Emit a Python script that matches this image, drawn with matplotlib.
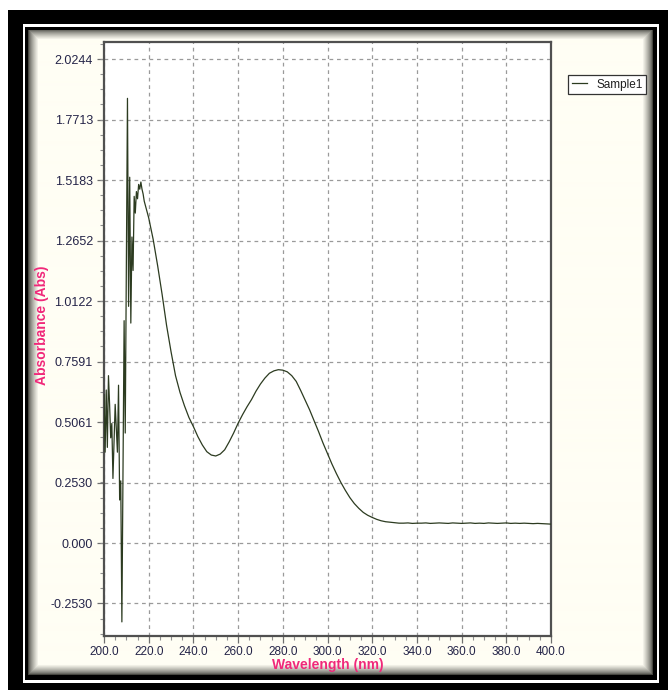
import numpy as np
import matplotlib
matplotlib.use("Agg")
import matplotlib.pyplot as plt
from matplotlib.patches import Rectangle

# ---------------- data ----------------
wl_noisy = np.arange(200.0, 218.0, 0.5)
abs_noisy = [0.62, 0.38, 0.64, 0.40, 0.70, 0.58, 0.44, 0.50, 0.27, 0.42,
             0.58, 0.48, 0.38, 0.66, 0.18, 0.26, -0.33, 0.30, 0.93, 0.46,
             1.16, 1.86, 0.99, 1.53, 0.92, 1.28, 1.14, 1.45, 1.38, 1.47,
             1.44, 1.50, 1.48, 1.51, 1.48, 1.46]
wl_main = np.arange(218.0, 401.0, 2.0)
abs_main = [1.43, 1.36, 1.27, 1.16, 1.04, 0.91, 0.80, 0.70, 0.63, 0.574,
            0.525, 0.487, 0.445, 0.41, 0.382, 0.368, 0.364, 0.372, 0.39, 0.423,
            0.46, 0.501, 0.537, 0.570, 0.60, 0.635, 0.665, 0.69, 0.71, 0.72,
            0.725, 0.723, 0.716, 0.70, 0.676, 0.638, 0.597, 0.557, 0.512, 0.466,
            0.418, 0.374, 0.33, 0.29, 0.253, 0.22, 0.19, 0.165, 0.145, 0.128,
            0.116, 0.107, 0.099, 0.093, 0.089, 0.087, 0.085, 0.083,
            0.083, 0.084, 0.082, 0.083, 0.083, 0.084, 0.082, 0.083, 0.084, 0.083,
            0.082, 0.084, 0.083, 0.082, 0.083, 0.084, 0.082, 0.083, 0.082, 0.084,
            0.083, 0.082, 0.083, 0.084, 0.082, 0.083, 0.082, 0.083, 0.082, 0.081,
            0.082, 0.081, 0.080, 0.079]

wavelength = np.concatenate([wl_noisy, wl_main])
absorbance = np.array(abs_noisy + abs_main)

xticks = [200, 220, 240, 260, 280, 300, 320, 340, 360, 380, 400]
xticklabels = ["200.0", "220.0", "240.0", "260.0", "280.0", "300.0",
               "320.0", "340.0", "360.0", "380.0", "400.0"]
yticks = [-0.2530, 0.0, 0.2530, 0.5061, 0.7591, 1.0122, 1.2652, 1.5183, 1.7713, 2.0244]
yticklabels = ["-0.2530", "0.000", "0.2530", "0.5061", "0.7591", "1.0122",
               "1.2652", "1.5183", "1.7713", "2.0244"]
series_name = "Sample1"
x_label = "Wavelength (nm)"
y_label = "Absorbance (Abs)"

# ---------------- figure ----------------
W, H = 668, 690
fig = plt.figure(figsize=(W / 100, H / 100), dpi=100)
fig.patch.set_facecolor("white")


def frect(x0, y0, x1, y1, color, z):
    fig.patches.append(Rectangle((x0 / W, 1 - y1 / H), (x1 - x0) / W, (y1 - y0) / H,
                                 transform=fig.transFigure, facecolor=color,
                                 edgecolor="none", zorder=z))


frect(8, 10, 668, 690, "black", 0)
frect(22.5, 24, 659, 683, "white", 1)
frect(25, 26.5, 656.5, 680, "black", 2)

# cream panel with inner shadow
px0, py0, px1, py1 = 28, 29.5, 653, 675
bg = fig.add_axes([px0 / W, 1 - py1 / H, (px1 - px0) / W, (py1 - py0) / H], zorder=3)
hh, ww = int(py1 - py0), int(px1 - px0)
yy, xx = np.mgrid[0:hh, 0:ww]
d = np.minimum(np.minimum(xx, ww - 1 - xx), np.minimum(yy, hh - 1 - yy)).astype(float)
s = np.clip(d / 10.0, 0, 1) ** 0.7
cream = np.array([255, 254, 244]) / 255.0
dark = np.array([70, 70, 64]) / 255.0
img = cream[None, None, :] * s[..., None] + dark[None, None, :] * (1 - s[..., None])
bg.imshow(img, aspect="auto", interpolation="bilinear")
bg.set_axis_off()

# main axes
ax_l, ax_r, ax_t, ax_b = 104, 551, 42, 636
ax = fig.add_axes([ax_l / W, 1 - ax_b / H, (ax_r - ax_l) / W, (ax_b - ax_t) / H], zorder=5)
ax.set_facecolor("white")
ax.plot(wavelength, absorbance, color="#2c3b20", lw=0.9, label=series_name, zorder=3)

ax.set_xlim(200, 400)
ax.set_xticks(xticks)
ax.set_xticklabels(xticklabels)
ax.set_yticks(yticks)
ax.set_yticklabels(yticklabels)
ax.set_xticks(np.arange(200, 401, 5), minor=True)
ystep = 0.25305
ax.set_yticks(np.arange(-0.2530 - ystep, 2.10, ystep / 4), minor=True)
ax.set_ylim(-0.389, 2.0957)

ax.grid(True, which="major", color="#9a9a9a", linestyle=(0, (3, 3)), lw=0.9)
ax.set_axisbelow(True)
for sp in ax.spines.values():
    sp.set_color("#505050")
    sp.set_linewidth(1.6)

tick_color = "#242448"
ax.tick_params(axis="both", which="major", direction="out", length=5, width=0.9,
               color="#707070", labelcolor=tick_color, pad=3)
ax.tick_params(axis="x", which="major", labelsize=8.5, pad=2)
ax.tick_params(axis="y", which="major", labelsize=9)
ax.tick_params(axis="both", which="minor", direction="out", length=3, width=0.8,
               color="#909090")
for lab in ax.get_xticklabels() + ax.get_yticklabels():
    lab.set_family(["Liberation Sans", "DejaVu Sans"])

pink = "#f0287a"
ax.set_xlabel(x_label, color=pink, fontsize=10, fontweight="bold",
              family=["Liberation Sans", "DejaVu Sans"], labelpad=0)
fig.text(42 / W, 1 - 325 / H, y_label, rotation=90, ha="center", va="center",
         color=pink, fontsize=10, fontweight="bold",
         family=["Liberation Sans Narrow", "Liberation Sans", "DejaVu Sans"], zorder=6)

leg = ax.legend(loc="upper left", bbox_to_anchor=(568 / W, 1 - 75 / H),
                bbox_transform=fig.transFigure, fancybox=False, framealpha=1,
                edgecolor="#333333", handlelength=1.3,
                borderpad=0.3, handletextpad=0.8, borderaxespad=0,
                prop={"family": ["Liberation Sans", "DejaVu Sans"], "size": 8.5})
leg.get_frame().set_linewidth(0.9)
for t in leg.get_texts():
    t.set_color("#202020")

fig.savefig("out.png", dpi=100)
